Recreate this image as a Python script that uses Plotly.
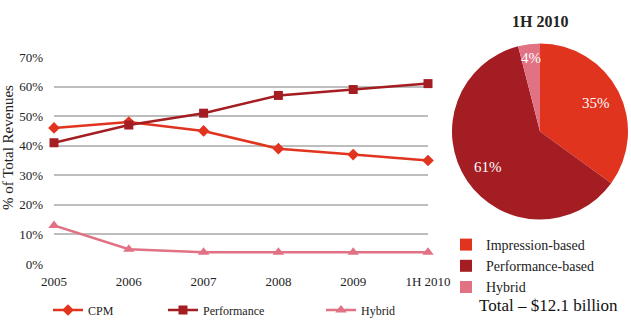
import math
import plotly.graph_objects as go

years = ["2005", "2006", "2007", "2008", "2009", "1H 2010"]
cpm = [46, 48, 45, 39, 37, 35]
performance = [41, 47, 51, 57, 59, 61]
hybrid = [13, 5, 4, 4, 4, 4]

pie_labels = ["Impression-based", "Performance-based", "Hybrid"]
pie_values = [35, 61, 4]
pie_title = "1H 2010"
total_text = "Total – $12.1 billion"
y_title = "% of Total Revenues"
y_ticks = [0, 10, 20, 30, 40, 50, 60, 70]

C_CPM = "#E1341F"
C_PERF = "#A41D22"
C_HYB = "#E07284"

FONT = "Liberation Serif"
W, H = 631, 329

fig = go.Figure()
x_idx = list(range(len(years)))

fig.add_trace(go.Scatter(x=x_idx, y=cpm, name="CPM", mode="lines+markers",
                         line=dict(color=C_CPM, width=2.5),
                         marker=dict(symbol="diamond", size=9, color=C_CPM),
                         cliponaxis=False, legend="legend", showlegend=True))
fig.add_trace(go.Scatter(x=x_idx, y=performance, name="Performance", mode="lines+markers",
                         line=dict(color=C_PERF, width=2.5),
                         marker=dict(symbol="square", size=9, color=C_PERF),
                         cliponaxis=False, legend="legend2", showlegend=True))
fig.add_trace(go.Scatter(x=x_idx, y=hybrid, name="Hybrid", mode="lines+markers",
                         line=dict(color=C_HYB, width=2.5),
                         marker=dict(symbol="triangle-up", size=10, color=C_HYB),
                         cliponaxis=False, legend="legend3", showlegend=True))

cx, cy, r = 540, 131.5, 88
fig.add_trace(go.Pie(labels=pie_labels, values=pie_values, sort=False,
                     direction="clockwise", rotation=0,
                     marker=dict(colors=[C_CPM, C_PERF, C_HYB], line=dict(width=0)),
                     textinfo="none", textposition="none",
                     domain=dict(x=[(cx - r) / W, (cx + r) / W],
                                 y=[1 - (cy + r) / H, 1 - (cy - r) / H]),
                     legend="legend4", showlegend=True))

# percentage labels placed along each slice's mid-angle
annotations = []
total = sum(pie_values)
cum = 0
for v in pie_values:
    mid = (cum + v / 2) / total * 2 * math.pi
    cum += v
    frac = 0.72 if v > 20 else 0.84
    px = cx + math.sin(mid) * r * frac
    py = cy - math.cos(mid) * r * frac
    annotations.append(dict(text=f"{round(v / total * 100)}%", x=px / W, y=1 - py / H,
                            xref="paper", yref="paper", xanchor="center", yanchor="middle",
                            showarrow=False,
                            font=dict(family=FONT, size=15, color="white")))

x0, x1 = 54, 428
y0, y1 = 264, 57
leg_font = dict(family=FONT, size=12, color="#222222")

annotations += [
    dict(text=y_title, textangle=-90, x=8 / W, y=1 - 148 / H,
         xref="paper", yref="paper", xanchor="center", yanchor="middle", showarrow=False,
         font=dict(family=FONT, size=15, color="#222222")),
    dict(text=f"<b>{pie_title}</b>", x=cx / W, y=1 - 22 / H,
         xref="paper", yref="paper", xanchor="center", yanchor="middle", showarrow=False,
         font=dict(family=FONT, size=16, color="#222222")),
    dict(text=total_text, x=548 / W, y=1 - 305 / H,
         xref="paper", yref="paper", xanchor="center", yanchor="middle", showarrow=False,
         font=dict(family=FONT, size=17, color="#111111")),
]

fig.update_layout(
    width=W, height=H,
    margin=dict(l=0, r=0, t=0, b=0, autoexpand=False),
    paper_bgcolor="white", plot_bgcolor="white",
    font=dict(family=FONT, size=12, color="#222222"),
    xaxis=dict(domain=[x0 / W, x1 / W], range=[0, len(years) - 1],
               tickmode="array", tickvals=x_idx, ticktext=years,
               showgrid=False, zeroline=False, showline=False,
               ticks="", ticklabelstandoff=8,
               tickfont=dict(family=FONT, size=13, color="#222222")),
    yaxis=dict(domain=[1 - y0 / H, 1 - y1 / H], range=[0, 70],
               tickmode="array", tickvals=y_ticks,
               ticktext=[f"{v}%" for v in y_ticks],
               showgrid=True, gridcolor="#BDBDBD", gridwidth=1.5,
               zeroline=False, showline=False, ticks="", ticklabelstandoff=10,
               tickfont=dict(family=FONT, size=13, color="#222222")),
    legend=dict(x=48 / W, y=1 - 310 / H, xanchor="left", yanchor="middle",
                font=leg_font, bgcolor="rgba(0,0,0,0)"),
    legend2=dict(x=163 / W, y=1 - 310 / H, xanchor="left", yanchor="middle",
                 font=leg_font, bgcolor="rgba(0,0,0,0)"),
    legend3=dict(x=321 / W, y=1 - 310 / H, xanchor="left", yanchor="middle",
                 font=leg_font, bgcolor="rgba(0,0,0,0)"),
    legend4=dict(x=446 / W, y=1 - 229 / H, xanchor="left", yanchor="top",
                 font=dict(family=FONT, size=14, color="#222222"),
                 bgcolor="rgba(0,0,0,0)"),
    annotations=annotations,
)

fig.write_html("out.html")
